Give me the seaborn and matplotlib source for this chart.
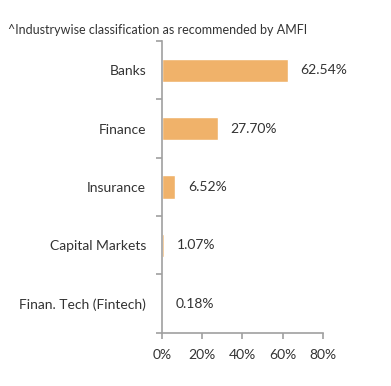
import matplotlib
matplotlib.use('Agg')
import matplotlib.pyplot as plt
import seaborn as sns
import numpy as np

# data
sectors = ['Banks', 'Finance', 'Insurance', 'Capital Markets', 'Finan. Tech (Fintech)']
weights = [62.54, 27.70, 6.52, 1.07, 0.18]
xticks = [0, 20, 40, 60, 80]
note = '^Industrywise classification as recommended by AMFI'

sns.set_style('white')
plt.rcParams['font.family'] = ['Lato', 'DejaVu Sans']

fig = plt.figure(figsize=(3.91, 3.86), dpi=100)
ax = fig.add_axes([162 / 391, 1 - 332.7 / 386, 160.7 / 391, 291.7 / 386])

sns.barplot(x=weights, y=sectors, orient='h', color='#F0B26A', saturation=1,
            width=0.4, ax=ax)

for i, v in enumerate(weights):
    ax.annotate('{:.2f}%'.format(v), xy=(v, i), xytext=(9.4, 0),
                textcoords='offset points', va='center', ha='left',
                fontsize=10, color='#333333')

ax.set_xlim(0, 80)
ax.set_ylim(4.5, -0.5)
ax.set_xticks(xticks)
ax.set_xticklabels(['{}%'.format(t) for t in xticks], fontsize=10, color='#333333')
ax.set_yticks(range(len(sectors)))
ax.set_yticklabels(sectors, fontsize=10, color='#333333')
ax.set_yticks(np.arange(-0.5, len(sectors), 1), minor=True)
ax.tick_params(axis='y', which='major', length=0, pad=11.5)
ax.tick_params(axis='y', which='minor', length=4.5, width=1.2, color='#a0a0a0', direction='out', left=True)
ax.tick_params(axis='x', which='major', length=4, width=1.2, color='#a0a0a0', direction='out', bottom=True, pad=8)
ax.set_xlabel('')
ax.set_ylabel('')

for s in ['top', 'right']:
    ax.spines[s].set_visible(False)
for s in ['left', 'bottom']:
    ax.spines[s].set_color('#a0a0a0')
    ax.spines[s].set_linewidth(1.2)

fig.text(8 / 391, 1 - 30 / 386, note, ha='left', va='center', fontsize=9, color='#333333')

fig.savefig('out.png', dpi=100)
